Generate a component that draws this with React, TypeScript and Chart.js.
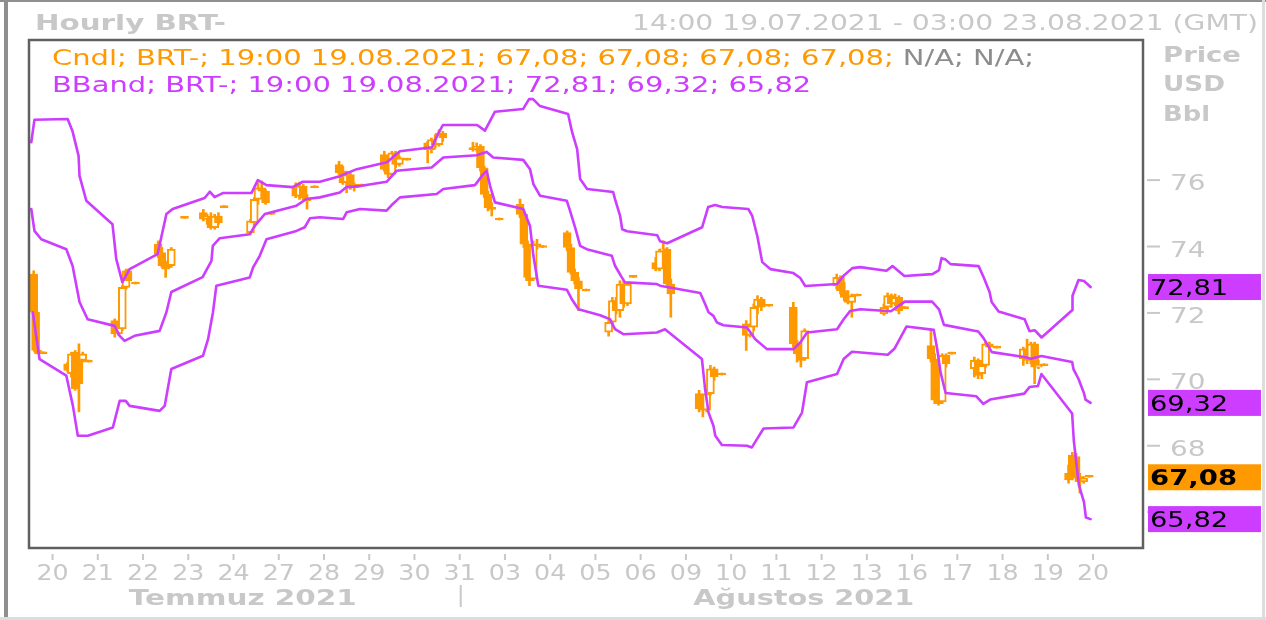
import React, { useEffect, useRef } from 'react';
import { Chart, registerables } from 'chart.js';

Chart.register(...registerables);

const ORANGE = '#ff9900';
const PURPLE = '#cc3dff';
const LIGHT = '#c8c8c8';
const NA_GRAY = '#8c8c8c';
const FONT = "'DejaVu Sans', Verdana, sans-serif";

const titleText = 'Hourly BRT-';
const rangeText = '14:00 19.07.2021 - 03:00 23.08.2021 (GMT)';
const lastTimeText = '19:00 19.08.2021';
const unitLabels = ['Price', 'USD', 'Bbl'];
const monthLabels = ['Temmuz 2021', 'Ağustos 2021'];

// x axis: hours since 14:00 19.07.2021 (weekends skipped)
const xTickHours = [10, 34, 58, 82, 106, 130, 154, 178, 202, 226, 250, 274, 298, 322, 346, 370, 394, 418, 442, 466, 490, 514, 538, 562];
const xTickLabels = ['20', '21', '22', '23', '24', '27', '28', '29', '30', '31', '03', '04', '05', '06', '09', '10', '11', '12', '13', '16', '17', '18', '19', '20'];
const monthSplitHour = 226;
const yTickValues = [66, 68, 70, 72, 74, 76];

// hourly candles
const candleHours = [
  0, 1, 2, 5,
  18, 20, 22, 24, 26, 29,
  43, 45, 47, 49, 50, 54,
  66, 68, 70, 72, 73, 80,
  90, 92, 94, 96, 98, 101,
  115, 117, 119, 121, 123, 126,
  139, 141, 143, 145, 149,
  162, 164, 166, 168, 170, 174,
  186, 188, 190, 192, 194, 198,
  209, 211, 213, 215, 217,
  233, 235, 237, 239, 241, 243, 247,
  258, 260, 262, 263, 265, 267, 270,
  283, 285, 287, 289, 293,
  305, 307, 309, 311, 313, 315, 318,
  330, 332, 334, 336, 338,
  353, 355, 357, 359, 361, 365,
  378, 380, 382, 384, 386, 390,
  403, 405, 407, 409,
  426, 428, 430, 432, 434, 437,
  451, 453, 455, 457, 459, 462,
  476, 478, 480, 482, 484, 487,
  499, 501, 503, 505, 507, 511,
  525, 527, 529, 531, 533, 536,
  549, 551, 553, 555, 557, 560,
];
const candleOpen = [
  73.2, 72.05, 70.9, 70.8,
  70.5, 70.2, 70.85, 70.7, 70.6, 70.55,
  71.8, 71.4, 71.55, 72.8, 73.3, 72.9,
  74.1, 73.85, 73.45, 73.6, 73.45, 74.88,
  75.05, 74.85, 74.95, 74.6, 74.95, 75.2,
  74.45, 74.75, 75.45, 75.8, 75.7, 75.0,
  75.85, 75.55, 75.85, 75.5, 75.8,
  76.5, 76.3, 75.95, 76.2, 75.8, 75.85,
  76.8, 76.35, 76.2, 76.85, 76.5, 76.63,
  77.15, 76.95, 77.25, 77.1, 77.45,
  77.0, 76.95, 77.05, 76.4, 75.6, 75.2, 74.83,
  75.3, 75.0, 74.1, 73.1, 73.05, 74.1, 74.0,
  74.45, 74.0, 73.25, 73.0, 72.69,
  71.45, 71.75, 72.4, 72.1, 72.9, 72.3, 73.1,
  73.55, 73.35, 73.9, 73.95, 72.9,
  69.6, 69.15, 69.1, 69.6, 70.35, 70.16,
  71.7, 71.35, 71.6, 72.2, 72.45, 72.23,
  72.2, 71.1, 70.8, 70.65,
  72.85, 73.1, 72.7, 72.5, 72.35, 72.54,
  72.0, 72.2, 72.55, 72.3, 72.5, 72.16,
  71.05, 70.65, 69.4, 69.35, 70.75, 70.79,
  70.35, 70.6, 70.2, 70.45, 71.1, 70.97,
  70.65, 70.95, 70.6, 71.1, 70.4, 70.44,
  67.2, 67.75, 67.7, 67.1, 66.95, 67.08,
];
const candleHigh = [
  73.3, 72.1, 71.0, 70.8,
  70.55, 70.85, 70.9, 71.1, 70.85, 70.55,
  71.85, 71.65, 72.85, 73.35, 73.35, 72.9,
  74.2, 74.0, 73.5, 73.65, 74.0, 74.88,
  75.15, 75.0, 75.05, 75.0, 75.05, 75.2,
  74.85, 75.5, 75.95, 76.0, 75.75, 75.0,
  75.95, 75.97, 75.9, 75.6, 75.8,
  76.6, 76.45, 76.3, 76.25, 75.95, 75.85,
  76.9, 76.5, 76.9, 76.9, 76.75, 76.63,
  77.2, 77.3, 77.4, 77.55, 77.5,
  77.17, 77.15, 77.1, 76.45, 75.7, 75.35, 74.83,
  75.46, 75.1, 74.2, 73.2, 74.2, 74.25, 74.0,
  74.5, 74.1, 73.35, 73.1, 72.69,
  71.8, 72.5, 72.5, 73.0, 73.0, 72.95, 73.1,
  73.7, 73.95, 74.2, 74.0, 73.05,
  69.7, 69.3, 69.7, 70.45, 70.4, 70.16,
  71.8, 71.7, 72.3, 72.55, 72.5, 72.23,
  72.35, 71.2, 71.0, 71.55,
  73.2, 73.15, 72.95, 72.7, 72.6, 72.54,
  72.3, 72.63, 72.6, 72.6, 72.55, 72.16,
  71.54, 70.8, 69.5, 70.8, 70.8, 70.79,
  70.7, 70.65, 70.55, 71.18, 71.15, 70.97,
  71.0, 71.24, 71.15, 71.15, 70.6, 70.44,
  67.45, 67.83, 67.8, 67.2, 67.1, 67.08,
];
const candleLow = [
  71.95, 70.8, 70.8, 70.8,
  70.25, 70.1, 69.7, 69.05, 70.55, 70.55,
  71.3, 71.35, 71.5, 72.75, 72.95, 72.9,
  73.7, 73.4, 73.1, 73.4, 73.4, 74.88,
  74.8, 74.7, 74.55, 74.55, 74.7, 75.2,
  74.4, 74.6, 75.3, 75.6, 75.3, 75.0,
  75.5, 75.45, 75.4, 75.16, 75.8,
  76.2, 75.9, 75.65, 75.75, 75.7, 75.85,
  76.3, 76.1, 76.15, 76.4, 76.45, 76.63,
  76.55, 76.85, 77.0, 77.05, 77.2,
  76.9, 76.9, 76.3, 75.5, 75.1, 74.95, 74.83,
  74.9, 74.0, 73.05, 72.85, 73.0, 73.95, 74.0,
  73.9, 73.2, 72.9, 72.1, 72.69,
  71.33, 71.6, 72.0, 71.9, 72.2, 72.25, 73.1,
  73.3, 73.3, 73.8, 72.8, 71.9,
  69.05, 68.9, 69.05, 69.55, 70.0, 70.16,
  70.9, 71.3, 71.5, 72.0, 72.1, 72.23,
  71.0, 70.55, 70.4, 70.6,
  72.75, 72.6, 72.4, 72.3, 71.9, 72.54,
  71.96, 72.1, 72.2, 72.25, 72.0, 72.16,
  70.55, 69.3, 69.25, 69.3, 70.4, 70.79,
  70.1, 70.05, 70.05, 70.4, 70.9, 70.97,
  70.45, 70.5, 70.5, 69.9, 70.35, 70.44,
  66.9, 67.0, 66.95, 66.6, 66.9, 67.08,
];
const candleClose = [
  72.05, 70.9, 70.85, 70.8,
  70.3, 70.8, 69.75, 69.9, 70.8, 70.55,
  71.4, 71.6, 72.8, 73.3, 73.0, 72.9,
  73.8, 73.45, 73.35, 73.45, 73.95, 74.88,
  74.85, 74.95, 74.6, 74.95, 74.75, 75.2,
  74.8, 75.45, 75.8, 75.7, 75.35, 75.0,
  75.55, 75.85, 75.5, 75.4, 75.8,
  76.25, 75.95, 76.2, 75.8, 75.9, 75.85,
  76.35, 76.2, 76.85, 76.5, 76.7, 76.63,
  76.95, 77.25, 77.1, 77.45, 77.3,
  76.95, 77.05, 76.4, 75.6, 75.2, 75.15, 74.83,
  75.0, 74.1, 73.1, 73.0, 74.1, 74.05, 74.0,
  74.0, 73.25, 73.0, 72.75, 72.69,
  71.75, 72.4, 72.1, 72.9, 72.3, 72.9, 73.1,
  73.35, 73.9, 73.95, 72.9, 72.6,
  69.15, 69.1, 69.6, 70.35, 70.1, 70.16,
  71.35, 71.65, 72.2, 72.45, 72.2, 72.23,
  71.1, 70.8, 70.6, 71.5,
  73.1, 72.7, 72.5, 72.35, 72.55, 72.54,
  72.2, 72.55, 72.3, 72.5, 72.1, 72.16,
  70.65, 69.4, 69.3, 70.75, 70.5, 70.79,
  70.6, 70.15, 70.45, 71.1, 71.0, 70.97,
  70.95, 70.6, 71.1, 70.4, 70.45, 70.44,
  67.0, 67.1, 67.05, 66.95, 67.05, 67.08,
];

// Bollinger bands: [hour, value]
const bandUpper = [
  [-1.3, 77.17], [0.4, 77.85], [18.0, 77.87], [20.5, 77.52], [23.8, 76.76], [24.3, 76.16], [27.9, 75.41],
  [41.8, 74.7], [43.8, 73.65], [47.0, 72.96], [50.9, 73.35], [65.7, 73.8], [70.4, 75.01], [73.7, 75.16],
  [90.7, 75.49], [93.4, 75.68], [96.0, 75.52], [100.3, 75.64], [115.5, 75.64], [118.9, 76.03], [123.5, 75.88],
  [137.4, 75.82], [142.8, 75.98], [151.8, 75.98], [162.4, 76.15], [171.4, 76.36], [187.4, 76.57], [194.3, 76.9],
  [211.3, 77.02], [214.5, 77.42], [217.1, 77.69], [235.2, 77.69], [239.4, 77.52], [244.7, 78.09], [259.6, 78.17],
  [262.8, 78.47], [264.9, 78.47], [268.6, 78.26], [283.5, 78.02], [285.6, 77.48], [288.3, 76.96], [289.9, 76.06],
  [293.6, 75.76], [307.4, 75.67], [308.4, 75.46], [311.1, 74.95], [312.2, 74.55], [314.8, 74.49], [330.8, 74.37],
  [332.3, 74.19], [336.1, 74.13], [354.6, 74.61], [357.8, 75.22], [361.5, 75.28], [365.3, 75.22], [379.1, 75.16],
  [381.2, 74.95], [383.9, 74.34], [386.5, 73.56], [390.8, 73.35], [403.0, 73.23], [406.7, 73.08], [409.3, 72.84],
  [426.3, 72.9], [429.5, 73.14], [434.3, 73.38], [438.5, 73.41], [452.4, 73.3], [455.6, 73.44], [461.9, 73.14],
  [476.8, 73.2], [480.3, 73.32], [481.6, 73.68], [483.5, 73.65], [486.4, 73.5], [501.3, 73.44], [503.9, 73.11],
  [507.1, 72.66], [508.2, 72.36], [511.9, 72.07], [525.7, 71.84], [528.3, 71.48], [531.0, 71.51], [534.7, 71.29],
  [550.9, 72.11], [551.1, 72.55], [554.3, 73.02], [557.2, 72.99], [560.7, 72.81],
];
const bandMiddle = [
  [-1.3, 75.16], [0.4, 74.5], [4.0, 74.25], [17.3, 73.95], [20.6, 73.45], [23.3, 72.66], [24.3, 72.36],
  [28.6, 71.84], [42.9, 71.64], [45.6, 71.34], [48.2, 71.19], [53.5, 71.34], [66.8, 71.49], [70.4, 72.05],
  [73.0, 72.66], [89.6, 73.11], [94.3, 73.6], [95.0, 74.05], [98.7, 74.28], [114.6, 74.4], [117.3, 74.65],
  [122.6, 75.01], [139.4, 75.26], [144.7, 75.46], [151.8, 75.51], [162.4, 75.66], [166.0, 75.82], [173.1, 75.85],
  [187.2, 75.98], [192.5, 76.31], [211.1, 76.41], [217.3, 76.71], [235.0, 76.78], [240.3, 76.88], [243.8, 76.71],
  [259.7, 76.64], [263.3, 76.36], [265.1, 75.91], [268.6, 75.56], [282.8, 75.41], [284.5, 75.11], [287.2, 74.61],
  [289.9, 74.05], [293.4, 73.95], [306.7, 73.75], [308.4, 73.45], [312.0, 73.1], [313.7, 72.95], [330.6, 72.9],
  [332.3, 72.85], [353.6, 72.63], [356.2, 72.3], [358.0, 72.05], [360.6, 71.94], [362.5, 71.74], [365.9, 71.66],
  [378.4, 71.59], [382.8, 71.24], [389.0, 70.94], [403.1, 70.94], [406.7, 71.14], [410.3, 71.44], [426.2, 71.54],
  [429.7, 71.84], [433.2, 72.09], [438.5, 72.14], [454.8, 72.08], [462.1, 72.37], [476.6, 72.37], [480.3, 72.14],
  [482.9, 71.67], [501.1, 71.47], [503.9, 71.27], [508.3, 70.85], [525.5, 70.7], [529.1, 70.65], [534.6, 70.73],
  [550.9, 70.55], [551.6, 70.34], [554.3, 70.04], [557.2, 69.61], [558.0, 69.42], [560.7, 69.32],
];
const bandLower = [
  [-0.5, 72.05], [3.1, 70.64], [17.3, 70.14], [20.8, 69.23], [23.4, 68.33], [28.7, 68.33], [42.0, 68.58],
  [45.6, 69.38], [48.8, 69.38], [50.9, 69.23], [66.8, 69.08], [69.5, 69.23], [73.0, 70.34], [89.8, 70.74],
  [92.5, 71.24], [95.1, 72.05], [96.9, 72.85], [114.6, 73.1], [116.4, 73.4], [119.9, 73.75], [123.5, 74.25],
  [139.4, 74.5], [143.8, 74.61], [146.5, 74.88], [151.8, 74.91], [164.2, 74.86], [166.0, 75.06], [173.1, 75.16],
  [187.2, 75.11], [189.9, 75.28], [194.3, 75.51], [213.8, 75.61], [217.3, 75.76], [234.1, 75.88], [238.5, 76.21],
  [240.3, 76.31], [242.1, 75.86], [244.7, 75.36], [259.7, 75.16], [263.3, 74.65], [265.1, 73.75], [267.7, 72.85],
  [282.8, 72.73], [285.4, 72.45], [289.0, 72.14], [300.5, 71.96], [305.8, 71.84], [308.4, 71.54], [312.8, 71.39],
  [330.6, 71.44], [334.9, 71.54], [354.5, 70.64], [356.2, 69.73], [358.0, 69.03], [360.6, 68.63], [361.6, 68.33],
  [365.1, 68.05], [378.4, 68.03], [381.0, 67.98], [383.7, 68.23], [387.2, 68.55], [403.1, 68.58], [407.6, 69.03],
  [410.2, 69.94], [426.2, 70.19], [429.7, 70.64], [434.1, 70.86], [453.1, 70.77], [456.6, 70.95], [463.0, 71.62],
  [477.5, 71.52], [479.3, 70.95], [481.1, 70.24], [483.8, 69.62], [500.1, 69.52], [503.8, 69.29], [507.4, 69.42],
  [525.5, 69.6], [528.3, 69.8], [532.8, 69.83], [534.6, 70.19], [550.9, 69.0], [551.8, 68.18], [554.5, 66.84],
  [557.2, 66.33], [558.2, 65.87], [560.7, 65.82],
];

const fmt = (v: number) => v.toFixed(2).replace('.', ',');
const lastOf = (a: any[]) => a[a.length - 1];

function drawText(ctx: any, s: string, x: number, y: number, size: number, bold: boolean, color: string,
  align: string, sx: number | null, target?: number) {
  ctx.save();
  ctx.font = `${bold ? 'bold ' : ''}${size}px ${FONT}`;
  ctx.fillStyle = color;
  ctx.textBaseline = 'alphabetic';
  ctx.textAlign = 'left';
  const raw = ctx.measureText(s).width;
  const k = target ? target / raw : (sx || 1);
  const w = raw * k;
  const x0 = align === 'right' ? x - w : align === 'center' ? x - w / 2 : x;
  ctx.translate(x0, y);
  ctx.scale(k, 1);
  ctx.fillText(s, 0, 0);
  ctx.restore();
  return w;
}

const decorPlugin = {
  id: 'decor',
  afterDraw(chart: any) {
    const ctx = chart.ctx;
    const ca = chart.chartArea;
    const xs = chart.scales.x;
    const ys = chart.scales.y;
    ctx.save();

    // outer frame
    ctx.fillStyle = '#8f8f8f';
    ctx.fillRect(0, 0, 1266, 2);
    ctx.fillRect(4, 0, 4, 620);
    ctx.fillStyle = '#dddddd';
    ctx.fillRect(1262, 0, 3, 620);
    ctx.fillRect(0, 617, 1266, 3);

    // plot border
    ctx.strokeStyle = '#606060';
    ctx.lineWidth = 2.5;
    ctx.strokeRect(ca.left, ca.top, ca.right - ca.left, ca.bottom - ca.top);

    // header
    drawText(ctx, titleText, 35, 30, 21, true, LIGHT, 'left', null, 191);
    drawText(ctx, rangeText, 1258, 30, 21, false, LIGHT, 'right', null, 626);

    // legend lines
    const o = lastOf(candleOpen), h = lastOf(candleHigh), l = lastOf(candleLow), c = lastOf(candleClose);
    const partA = `Cndl; BRT-; ${lastTimeText}; ${fmt(o)}; ${fmt(h)}; ${fmt(l)}; ${fmt(c)};`;
    const partB = ' N/A; N/A;';
    ctx.font = `21px ${FONT}`;
    const k1 = 982 / ctx.measureText(partA + partB).width;
    const wA = drawText(ctx, partA, 52, 65, 21, false, ORANGE, 'left', k1);
    drawText(ctx, partB, 52 + wA, 65, 21, false, NA_GRAY, 'left', k1);
    const up = lastOf(bandUpper)[1], mid = lastOf(bandMiddle)[1], low = lastOf(bandLower)[1];
    const line2 = `BBand; BRT-; ${lastTimeText}; ${fmt(up)}; ${fmt(mid)}; ${fmt(low)}`;
    drawText(ctx, line2, 52, 92, 21, false, PURPLE, 'left', k1);

    // units
    const unitTargets = [78, 62, 47];
    const unitBase = [62, 91, 121];
    unitLabels.forEach((u, i) => drawText(ctx, u, 1163, unitBase[i], 21, true, LIGHT, 'left', null, unitTargets[i]));

    // y ticks
    yTickValues.forEach((v) => {
      const y = ys.getPixelForValue(v);
      ctx.fillStyle = LIGHT;
      ctx.fillRect(ca.right + 4, y - 2, 13, 2);
      drawText(ctx, String(v), ca.right + 27, y + 9, 21, false, LIGHT, 'left', 1.33);
    });

    // value boxes
    const boxes = [
      [up, PURPLE, false],
      [mid, PURPLE, false],
      [c, ORANGE, true],
      [low, PURPLE, false],
    ];
    boxes.forEach(([v, col, bold]: any) => {
      const y = ys.getPixelForValue(v);
      ctx.fillStyle = col;
      ctx.fillRect(ca.right + 5, y - 13, 113, 26);
      drawText(ctx, fmt(v), ca.right + 7, y + 8, 21, bold, '#000000', 'left', bold ? 1.31 : 1.3);
    });

    // x ticks
    xTickHours.forEach((t, i) => {
      const x = xs.getPixelForValue(t);
      ctx.fillStyle = LIGHT;
      ctx.fillRect(x - 1, ca.bottom + 6, 2, 6);
      drawText(ctx, xTickLabels[i], x, 580, 22, false, LIGHT, 'center', 1.15);
    });

    // months
    const sepX = xs.getPixelForValue(monthSplitHour) + 1;
    ctx.fillStyle = LIGHT;
    ctx.fillRect(sepX - 1, 585, 2, 22);
    drawText(ctx, monthLabels[0], (ca.left + sepX) / 2 - 2, 605, 21, true, LIGHT, 'center', null, 228);
    drawText(ctx, monthLabels[1], (sepX + ca.right) / 2 + 2, 605, 21, true, LIGHT, 'center', null, 221);

    ctx.restore();
  },
};

export default function App() {
  const ref = useRef<HTMLCanvasElement>(null);
  useEffect(() => {
    const canvas = ref.current;
    if (!canvas) return;
    const isUp = (i: number) => candleClose[i] > candleOpen[i];
    const lineDs = (label: string, pts: number[][]) => ({
      type: 'line',
      label,
      data: pts.map((p) => ({ x: p[0], y: p[1] })),
      borderColor: PURPLE,
      borderWidth: 2.6,
      pointRadius: 0,
      fill: false,
      tension: 0,
      borderJoinStyle: 'round',
      borderCapStyle: 'round',
    });
    const chart = new Chart(canvas, {
      type: 'bar',
      data: {
        datasets: [
          lineDs('Upper', bandUpper),
          lineDs('Middle', bandMiddle),
          lineDs('Lower', bandLower),
          {
            type: 'bar',
            label: 'Body',
            data: candleHours.map((t, i) => ({
              x: t,
              y: [Math.min(candleOpen[i], candleClose[i]), Math.max(candleOpen[i], candleClose[i])],
            })),
            backgroundColor: (ctx: any) => (isUp(ctx.dataIndex) ? '#ffffff' : ORANGE),
            borderColor: ORANGE,
            borderWidth: 2,
            borderSkipped: false,
            barThickness: 8,
            grouped: false,
            minBarLength: 2,
          },
          {
            type: 'bar',
            label: 'Wick',
            data: candleHours.map((t, i) => ({ x: t, y: [candleLow[i], candleHigh[i]] })),
            backgroundColor: ORANGE,
            borderWidth: 0,
            barThickness: 2,
            grouped: false,
            minBarLength: 2,
          },
        ],
      } as any,
      options: {
        animation: false,
        responsive: false,
        devicePixelRatio: 1,
        events: [],
        layout: { padding: { left: 29, top: 40, right: 123, bottom: 72 } },
        plugins: { legend: { display: false }, tooltip: { enabled: false }, title: { display: false } },
        scales: {
          x: { type: 'linear', min: -2.5, max: 588.5, offset: false, display: false, grid: { offset: false } },
          y: { type: 'linear', min: 64.95, max: 80.25, display: false, beginAtZero: false },
        },
      } as any,
      plugins: [decorPlugin],
    });
    return () => chart.destroy();
  }, []);
  return (
    <div style={{ position: 'absolute', left: 0, top: 0, width: 1266, height: 620, background: '#ffffff' }}>
      <canvas ref={ref} width={1266} height={620} style={{ display: 'block', width: '1266px', height: '620px' }} />
    </div>
  );
}
